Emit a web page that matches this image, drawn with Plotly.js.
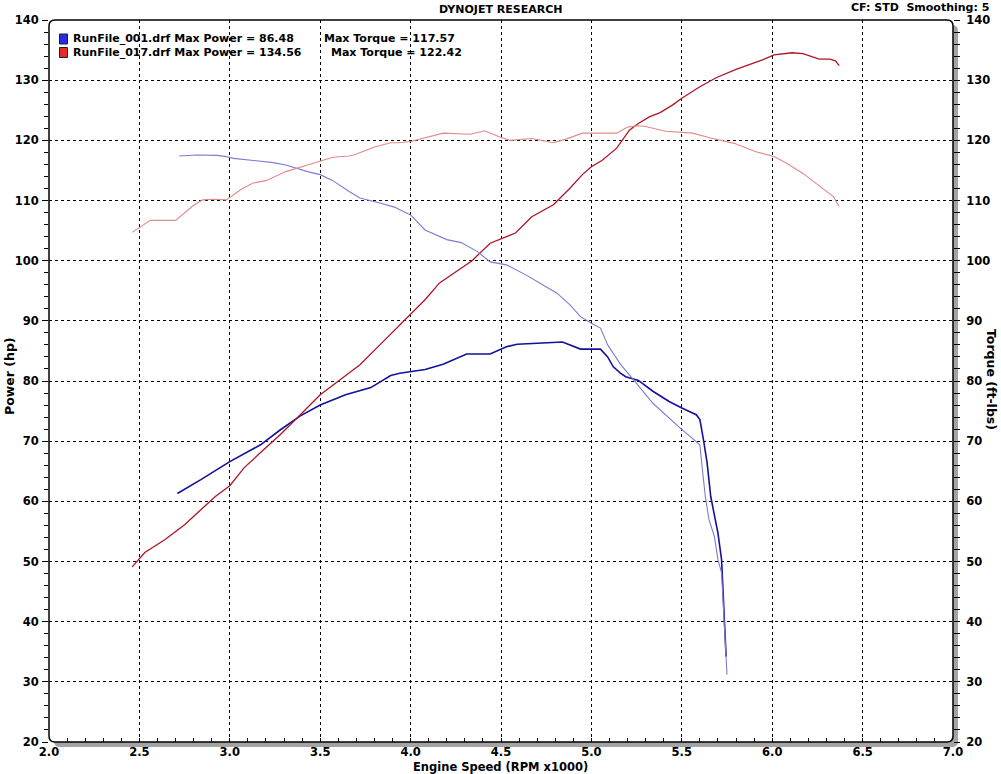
<!DOCTYPE html>
<html>
<head>
<meta charset="utf-8">
<script src="https://cdn.plot.ly/plotly-3.0.1.min.js"></script>
<style>
html,body{margin:0;padding:0;background:#fff;}
#chart{width:1001px;height:774px;}
</style>
</head>
<body>
<div id="chart"></div>
<script>
// ---- Data (RPM x1000) ----
// RunFile_001 - Power (hp)
const run001PowerRpm = [2.71,2.84,3.0,3.17,3.28,3.39,3.50,3.64,3.78,3.89,3.94,4.0,4.08,4.18,4.31,4.44,4.49,4.53,4.59,4.75,4.84,4.94,5.05,5.09,5.12,5.16,5.19,5.26,5.34,5.43,5.50,5.58,5.60,5.62,5.64,5.66,5.68,5.70,5.72,5.73,5.735,5.74,5.745];
const run001PowerHp  = [61.3,63.6,66.6,69.4,71.9,74.2,76.0,77.7,78.9,80.9,81.3,81.6,81.9,82.8,84.5,84.5,85.2,85.7,86.1,86.4,86.48,85.3,85.3,84.0,82.4,81.3,80.7,80.1,78.3,76.6,75.5,74.4,73.6,70.2,66.4,60.8,57.5,54.7,50.3,43.2,39.2,35.9,34.2];
// RunFile_001 - Torque (ft-lbs)
const run001TorqueRpm = [2.72,2.82,2.93,2.98,3.02,3.15,3.24,3.31,3.43,3.50,3.57,3.66,3.72,3.83,3.91,4.0,4.05,4.08,4.20,4.28,4.37,4.44,4.53,4.64,4.73,4.81,4.88,4.94,5.0,5.05,5.09,5.16,5.23,5.34,5.49,5.57,5.60,5.61,5.63,5.65,5.68,5.70,5.72,5.73,5.74,5.75];
const run001TorqueFt  = [117.4,117.57,117.5,117.3,117.0,116.6,116.3,115.9,114.8,114.3,113.3,111.5,110.4,109.6,108.9,107.6,106.0,105.1,103.5,103.0,101.5,99.8,99.3,97.6,96.0,94.6,92.7,90.7,89.6,88.8,86.0,82.8,80.3,76.3,72.2,70.2,69.4,66.4,60.8,57.0,54.2,50.3,48.1,42.5,37.0,31.2];
// RunFile_017 - Power (hp)
const run017PowerRpm = [2.46,2.53,2.64,2.75,2.84,2.92,3.0,3.08,3.17,3.28,3.39,3.50,3.61,3.72,3.83,3.94,4.0,4.08,4.16,4.25,4.34,4.44,4.49,4.58,4.67,4.79,4.88,4.95,5.0,5.06,5.14,5.21,5.26,5.32,5.38,5.45,5.50,5.60,5.69,5.80,5.95,6.01,6.11,6.17,6.26,6.32,6.35,6.37];
const run017PowerHp  = [49.1,51.5,53.6,56.1,58.6,60.8,62.6,65.6,68.1,71.1,74.4,77.7,80.2,82.7,86.0,89.3,91.0,93.5,96.3,98.1,100.0,102.9,103.5,104.6,107.3,109.3,112.0,114.3,115.6,116.7,118.7,121.7,122.8,123.9,124.6,125.9,127.0,128.9,130.4,131.8,133.4,134.2,134.56,134.4,133.5,133.5,133.2,132.4];
// RunFile_017 - Torque (ft-lbs)
const run017TorqueRpm = [2.46,2.56,2.60,2.70,2.80,2.85,2.91,2.98,3.07,3.13,3.20,3.31,3.43,3.50,3.57,3.66,3.69,3.80,3.89,3.94,4.0,4.18,4.33,4.41,4.49,4.55,4.67,4.79,4.86,4.95,5.05,5.14,5.20,5.26,5.30,5.41,5.56,5.66,5.79,5.91,6.01,6.08,6.17,6.25,6.34,6.37];
const run017TorqueFt  = [104.7,106.7,106.7,106.7,109.2,110.1,110.2,110.1,112.0,112.9,113.3,114.8,115.9,116.5,117.2,117.4,117.6,118.9,119.6,119.6,119.8,121.2,121.0,121.6,120.6,120.0,120.3,119.6,120.2,121.2,121.2,121.2,122.2,122.42,122.3,121.5,121.2,120.4,119.5,118.1,117.3,116.2,114.5,112.6,110.6,109.0];

const legendLines = [
  {file:"RunFile_001.drf Max Power = 86.48", torque:"Max Torque = 117.57", color:"#2a2ae6"},
  {file:"RunFile_017.drf Max Power = 134.56", torque:"Max Torque = 122.42", color:"#e62a2a"}
];

// ---- Layout geometry (pixels) ----
const W = 1001, H = 774;
const L = 49, R = 953, T = 20, B = 742;
const PW = R - L, PH = B - T;
const px = v => (v - L) / PW;
const py = v => (B - v) / PH;

const FONT = "DejaVu Sans, Verdana, sans-serif";
const bold = (size) => ({family: FONT, size: size, color: "#000", weight: 700});

const traces = [
  {x: run001TorqueRpm, y: run001TorqueFt, yaxis: "y2", mode: "lines", line: {color: "#7c7cd2", width: 1.1}, hoverinfo: "skip"},
  {x: run017TorqueRpm, y: run017TorqueFt, yaxis: "y2", mode: "lines", line: {color: "#e48888", width: 1.1}, hoverinfo: "skip"},
  {x: run001PowerRpm, y: run001PowerHp, yaxis: "y", mode: "lines", line: {color: "#12129c", width: 1.6}, hoverinfo: "skip"},
  {x: run017PowerRpm, y: run017PowerHp, yaxis: "y", mode: "lines", line: {color: "#b01424", width: 1.3}, hoverinfo: "skip"}
];

function roundRect(x0, y0, x1, y1, r) {
  const rx = r / PW, ry = r / PH;
  const X0 = px(x0), X1 = px(x1), Y0 = py(y1), Y1 = py(y0);
  return `M ${X0+rx},${Y1} L ${X1-rx},${Y1} Q ${X1},${Y1} ${X1},${Y1-ry} L ${X1},${Y0+ry} Q ${X1},${Y0} ${X1-rx},${Y0} L ${X0+rx},${Y0} Q ${X0},${Y0} ${X0},${Y0+ry} L ${X0},${Y1-ry} Q ${X0},${Y1} ${X0+rx},${Y1} Z`;
}

const shapes = [
  {type: "path", xref: "paper", yref: "paper", path: roundRect(L+5, T+5, R+5, B+5, 6), fillcolor: "#a4a4a4", line: {width: 0}, layer: "below"},
  {type: "path", xref: "paper", yref: "paper", path: roundRect(L, T, R, B, 6), fillcolor: "#ffffff", line: {width: 0}, layer: "below"},
  {type: "path", xref: "paper", yref: "paper", path: roundRect(L, T, R, B, 6), line: {color: "#000", width: 1.5}, layer: "above"}
];

const annotations = [
  {text: "DYNOJET RESEARCH", x: px(500), y: py(10), xanchor: "center", yanchor: "middle"},
  {text: "CF: STD  Smoothing: 5", x: px(991), y: py(8), xanchor: "right", yanchor: "middle"},
  {text: "Engine Speed (RPM x1000)", x: px(500), y: py(766.5), xanchor: "center", yanchor: "middle", font: bold(11.5)},
  {text: "Power (hp)", x: px(10), y: py(376), xanchor: "center", yanchor: "middle", textangle: -90, font: bold(12.5)},
  {text: "Torque (ft-lbs)", x: px(992), y: py(379), xanchor: "center", yanchor: "middle", textangle: 90, font: bold(12.5)}
];
legendLines.forEach((ln, i) => {
  const yc = 39 + i * 13.5;
  annotations.push({text: ln.file, x: px(71), y: py(yc), xanchor: "left", yanchor: "middle"});
  annotations.push({text: ln.torque, x: px(i === 0 ? 322 : 329), y: py(yc), xanchor: "left", yanchor: "middle"});
  shapes.push({type: "rect", xref: "paper", yref: "paper", x0: px(59.5), x1: px(67.5), y0: py(yc+5), y1: py(yc-5),
    fillcolor: ln.color, line: {color: "#202020", width: 1}, layer: "above"});
});
annotations.forEach(a => { a.xref = "paper"; a.yref = "paper"; a.showarrow = false; if (!a.font) a.font = bold(11); });

const gridStyle = {showgrid: true, gridcolor: "#000", gridwidth: 1, griddash: "3px,3px"};

const layout = {
  width: W, height: H,
  margin: {l: L, r: W - R, t: T, b: H - B, pad: 0},
  paper_bgcolor: "#fff",
  plot_bgcolor: "rgba(0,0,0,0)",
  showlegend: false,
  xaxis: Object.assign({
    range: [2, 7], tick0: 2, dtick: 0.5, tickformat: ".1f",
    ticks: "inside", ticklen: 4, tickcolor: "#000", tickwidth: 1,
    minor: {dtick: 0.1, tick0: 2, ticks: "inside", ticklen: 4, tickcolor: "#000", showgrid: false},
    showline: false, zeroline: false, tickfont: bold(11.5), ticklabelstandoff: 1, fixedrange: true
  }, gridStyle),
  yaxis: Object.assign({
    range: [20, 140], tick0: 20, dtick: 10,
    ticks: "outside", ticklen: 6, tickcolor: "#000", tickwidth: 1,
    minor: {dtick: 2, tick0: 20, ticks: "outside", ticklen: 4, tickcolor: "#000", showgrid: false},
    showline: false, zeroline: false, tickfont: bold(11.5), ticklabelstandoff: 1, fixedrange: true
  }, gridStyle),
  yaxis2: {
    range: [20, 140], tick0: 20, dtick: 10, overlaying: "y", side: "right",
    ticks: "outside", ticklen: 6, tickcolor: "#000", tickwidth: 1,
    minor: {dtick: 2, tick0: 20, ticks: "outside", ticklen: 6, tickcolor: "#000", showgrid: false},
    showgrid: false, showline: false, zeroline: false, tickfont: bold(11.5), ticklabelstandoff: 4, fixedrange: true
  },
  yaxis3: {
    range: [20, 140], tick0: 20, dtick: 2, overlaying: "y", side: "left",
    ticks: "inside", ticklen: 4, tickcolor: "#000", tickwidth: 1,
    showticklabels: false, showgrid: false, showline: false, zeroline: false, fixedrange: true
  },
  shapes: shapes,
  annotations: annotations
};

Plotly.newPlot("chart", traces, layout, {displayModeBar: false, staticPlot: true});
</script>
</body>
</html>
